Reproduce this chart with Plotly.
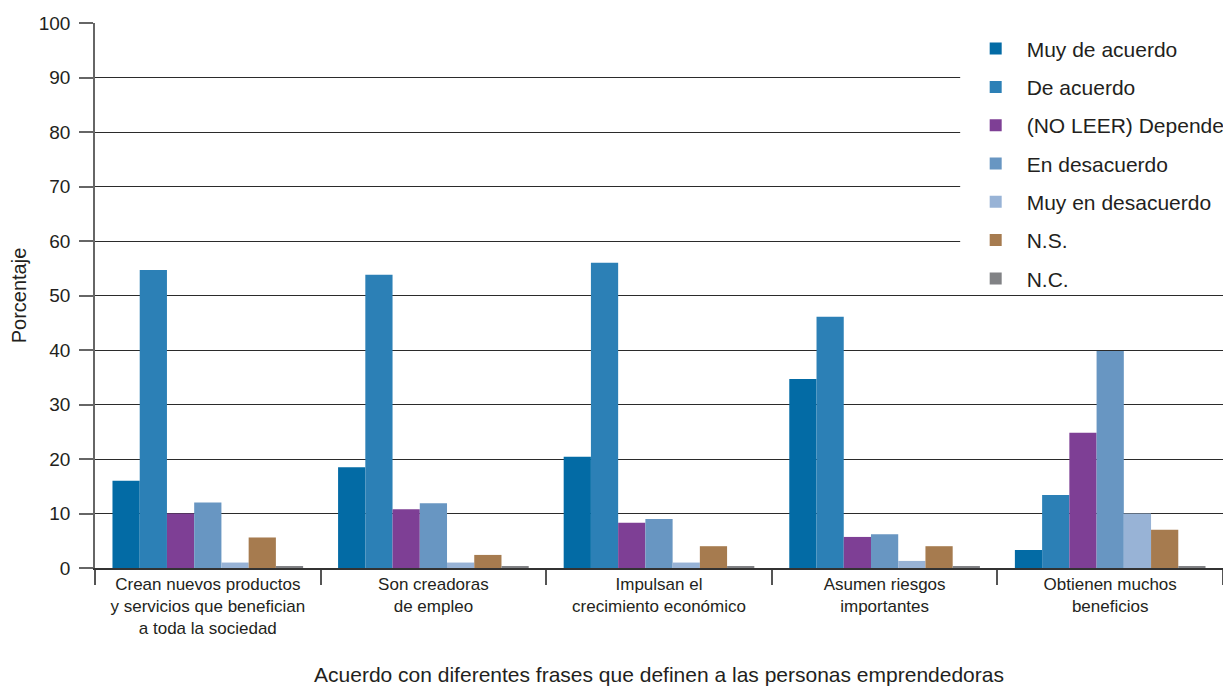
import plotly.graph_objects as go

categories = [
    "Crean nuevos productos<br>y servicios que benefician<br>a toda la sociedad",
    "Son creadoras<br>de empleo",
    "Impulsan el<br>crecimiento económico",
    "Asumen riesgos<br>importantes",
    "Obtienen muchos<br>beneficios",
]

series_names = [
    "Muy de acuerdo",
    "De acuerdo",
    "(NO LEER) Depende",
    "En desacuerdo",
    "Muy en desacuerdo",
    "N.S.",
    "N.C.",
]

muy_de_acuerdo = [16.0, 18.5, 20.4, 34.7, 3.3]
de_acuerdo = [54.7, 53.8, 56.0, 46.1, 13.4]
depende = [10.0, 10.8, 8.3, 5.7, 24.8]
en_desacuerdo = [12.0, 11.9, 9.0, 6.2, 39.8]
muy_en_desacuerdo = [1.0, 1.0, 1.0, 1.3, 10.0]
ns = [5.6, 2.4, 4.0, 4.0, 7.0]
nc = [0.2, 0.2, 0.2, 0.2, 0.2]

series_values = [muy_de_acuerdo, de_acuerdo, depende, en_desacuerdo,
                 muy_en_desacuerdo, ns, nc]
colors = ["#036ba5", "#2c80b6", "#7e3f95", "#6896c2", "#98b3d6", "#a67b4f", "#818285"]

FONT = "Liberation Sans, Arial, sans-serif"
TXT = "#231f20"

fig = go.Figure()
for i, (name, vals, col) in enumerate(zip(series_names, series_values, colors)):
    fig.add_trace(go.Bar(
        x=categories, y=vals, name=name, marker_color=col,
        marker_line_width=0, legendgroup=f"g{i}",
    ))

# white panel behind the legend (covers gridlines, like the original)
fig.add_shape(type="rect", xref="paper", yref="paper",
              x0=0.767, x1=1.0, y0=0.508, y1=0.993,
              fillcolor="white", line_width=0, layer="above")

fig.update_layout(
    width=1223, height=678,
    margin=dict(l=87, r=1, t=15, b=118),
    paper_bgcolor="white", plot_bgcolor="white",
    barmode="group", bargap=0.155, bargroupgap=0,
    font=dict(family=FONT, color=TXT),
    showlegend=True,
    legend=dict(
        x=0.771, y=0.99, xanchor="left", yanchor="top",
        bgcolor="rgba(0,0,0,0)", borderwidth=0,
        font=dict(size=21, family=FONT, color=TXT),
        tracegroupgap=8, itemwidth=52, traceorder="grouped",
    ),
    xaxis=dict(
        showline=True, linecolor="#333333", linewidth=1.5,
        ticks="outside", tickson="boundaries", ticklen=15,
        tickcolor="#555555", tickwidth=1.5,
        tickfont=dict(size=17, family=FONT, color=TXT),
        title=dict(text="Acuerdo con diferentes frases que definen a las personas emprendedoras",
                   font=dict(size=21, family=FONT, color=TXT), standoff=32),
        automargin=False,
    ),
    yaxis=dict(
        range=[0, 100], dtick=10,
        showgrid=True, gridcolor="#2b2b2b", gridwidth=1.3,
        showline=True, linecolor="#666666", linewidth=1.5,
        ticks="outside", ticklen=14, tickcolor="#666666", tickwidth=1.5,
        ticklabelstandoff=5,
        tickfont=dict(size=19, family=FONT, color=TXT),
        title=dict(text="Porcentaje", font=dict(size=20, family=FONT, color=TXT),
                   standoff=8),
        zeroline=False, automargin=False,
    ),
)

fig.write_html("out.html")
